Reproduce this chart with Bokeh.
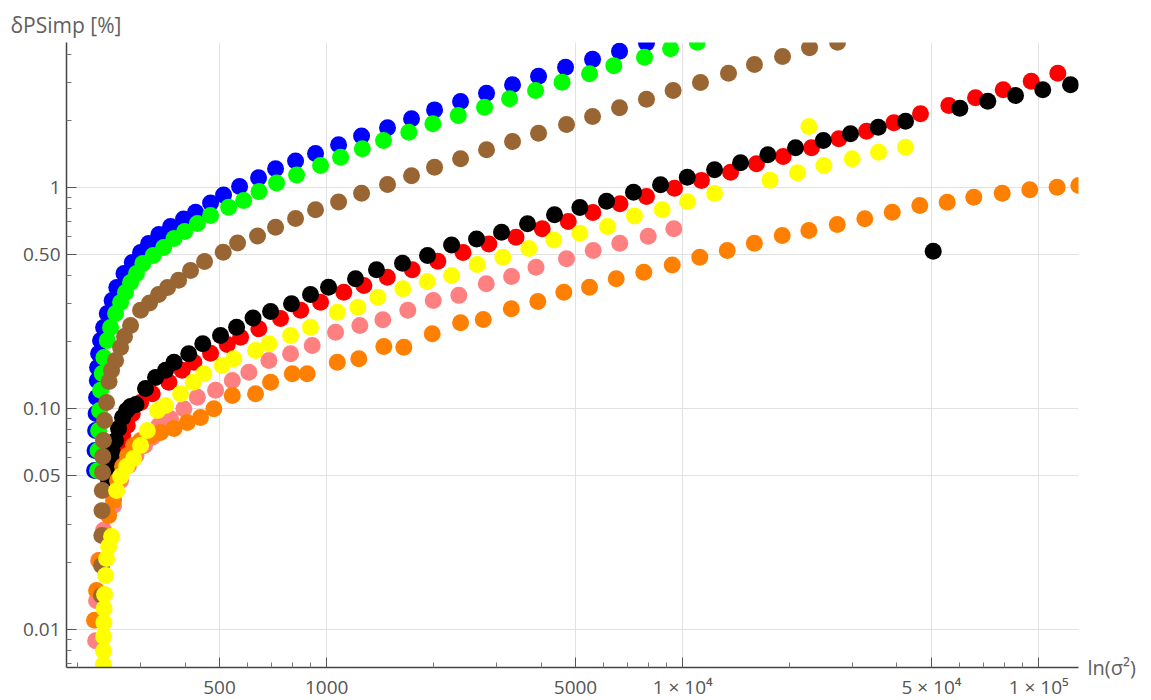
from bokeh.plotting import figure
from bokeh.models import FixedTicker, Range1d, CustomJSTickFormatter, LinearAxis
from bokeh.embed import file_html
from bokeh.resources import INLINE

# ---------------- data ----------------
blue_x = [222.8, 223.5, 224.3, 225.0, 225.7, 226.8, 227.2, 228.7, 231.6, 236.2, 241.9, 249.6, 257.2, 269.5,
          284.3, 300, 316.1, 337.7, 364.3, 396.2, 428.2, 471.8, 513.1, 569.2, 643.6, 718.4, 817.5, 930.3,
          1080, 1253, 1482, 1731, 2009, 2377, 2812, 3327, 3937, 4688, 5583, 6646, 7913]
blue_y = [0.0524, 0.0645, 0.0795, 0.0949, 0.1121, 0.134, 0.1533, 0.1773, 0.203, 0.2325, 0.269, 0.308, 0.353,
          0.408, 0.458, 0.508, 0.558, 0.613, 0.666, 0.720, 0.773, 0.851, 0.925, 1.010, 1.106, 1.215, 1.318,
          1.425, 1.560, 1.71, 1.865, 2.045, 2.245, 2.45, 2.67, 2.92, 3.19, 3.50, 3.80, 4.14, 4.51]

green_x = [227.2, 227.9, 228.7, 230.1, 231.6, 234.1, 236.6, 241.9, 247.1, 255.2, 263.6, 272.1, 281.2, 292.2,
           304.4, 325.5, 348.3, 372.5, 398.9, 433.2, 471.8, 530.4, 584.5, 645.5, 722.8, 822.8, 960.9, 1094,
           1259, 1444, 1701, 1987, 2342, 2776, 3263, 3861, 4583, 5474, 6406, 7812, 9246, 10990]
green_y = [0.0524, 0.0645, 0.0795, 0.098, 0.121, 0.144, 0.170, 0.203, 0.2325, 0.269, 0.302, 0.335, 0.372,
           0.408, 0.453, 0.492, 0.535, 0.588, 0.632, 0.687, 0.747, 0.815, 0.873, 0.959, 1.048, 1.139, 1.257,
           1.371, 1.497, 1.63, 1.779, 1.942, 2.12, 2.308, 2.52, 2.75, 2.995, 3.27, 3.56, 3.887, 4.243, 4.54]

red_x = [250.3, 255.2, 260.2, 267.0, 275.3, 284.3, 300, 323.6, 360.3, 392.8, 423.5, 471.8, 525.6, 572.8,
         644.8, 741.9, 845, 961, 1117, 1272, 1480, 1739, 2052, 2415, 2854, 3403, 4032, 4771, 5593, 6668,
         7913, 9486, 11290, 13630, 16120, 19160, 23010, 27460, 32850, 39200, 46570, 55930, 66460, 79510,
         95300, 113200]
red_y = [0.0524, 0.0613, 0.068, 0.0755, 0.0838, 0.0946, 0.1065, 0.1165, 0.1315, 0.149, 0.162, 0.178, 0.195,
         0.2102, 0.2294, 0.2554, 0.278, 0.3027, 0.3359, 0.360, 0.3927, 0.4242, 0.4640, 0.508, 0.5551, 0.5958,
         0.6503, 0.7017, 0.771, 0.8437, 0.9105, 0.9927, 1.077, 1.173, 1.280, 1.381, 1.512, 1.661, 1.798,
         1.963, 2.155, 2.35, 2.546, 2.768, 3.027, 3.289]

black_x = [244.0, 247.1, 250.3, 255.2, 260.2, 267.0, 274.1, 281.2, 291.2, 309.8, 330.5, 352.7, 372.5, 409.6,
           448.6, 503.2, 558.3, 621.0, 695.7, 796.5, 900.6, 1012, 1205, 1380, 1633, 1920, 2243, 2636, 3098,
           3666, 4365, 5142, 6111, 7276, 8666, 10300, 12290, 14540, 17350, 20750, 24830, 29610, 35430,
           42270, 50560, 60060, 71960, 86100, 102700, 122900]
black_y = [0.0472, 0.0552, 0.0632, 0.0716, 0.0812, 0.0911, 0.098, 0.1021, 0.1042, 0.1232, 0.1381, 0.149,
           0.162, 0.1768, 0.1963, 0.2140, 0.2333, 0.2567, 0.2748, 0.2977, 0.328, 0.354, 0.386, 0.424, 0.4544,
           0.492, 0.5494, 0.5848, 0.6276, 0.6851, 0.7524, 0.8117, 0.8669, 0.9522, 1.0285, 1.113, 1.202, 1.294,
           1.406, 1.512, 1.63, 1.750, 1.874, 1.995, 0.5149, 2.285, 2.458, 2.608, 2.768, 2.915]

pink_x = [224.3, 225.7, 228.7, 236.2, 251.9, 263.6, 277.6, 291.2, 307.8, 323.6, 337.7, 364.3, 396.9, 433.2,
          487.3, 542.9, 604.4, 688.1, 791.4, 910.6, 1059, 1239, 1438, 1690, 1992, 2351, 2807, 3306, 3872,
          4718, 5607, 6658, 8001, 9443]
pink_y = [0.0089, 0.0135, 0.0205, 0.0281, 0.0364, 0.0472, 0.0552, 0.0613, 0.068, 0.0742, 0.0838, 0.0898,
          0.0997, 0.1125, 0.121, 0.134, 0.146, 0.165, 0.177, 0.193, 0.2214, 0.2375, 0.252, 0.278, 0.308,
          0.325, 0.3667, 0.3959, 0.436, 0.4759, 0.519, 0.5598, 0.602, 0.650]

orange_x = [222.8, 225.7, 230.1, 236.2, 244.0, 251.9, 258.5, 267.0, 275.8, 286.7, 300, 320, 341.5, 372.5,
            405.8, 442, 481.9, 542.9, 631.1, 695.7, 800.2, 881.6, 1071, 1231, 1447, 1647, 1979, 2377, 2753,
            3300, 3918, 4636, 5474, 6505, 7777, 9346, 11170, 13340, 15900, 19040, 22620, 27180, 32480,
            38790, 46360, 55350, 65730, 79000, 94430, 112700, 129700]
orange_y = [0.0110, 0.0150, 0.0205, 0.0266, 0.0328, 0.0384, 0.0472, 0.0546, 0.0613, 0.068, 0.0716, 0.0755,
            0.0779, 0.0812, 0.0864, 0.0911, 0.0998, 0.1145, 0.1165, 0.1316, 0.1436, 0.1436, 0.162, 0.168,
            0.1908, 0.1894, 0.2178, 0.2443, 0.2527, 0.2826, 0.3049, 0.336, 0.354, 0.386, 0.4138, 0.446,
            0.484, 0.519, 0.560, 0.6064, 0.639, 0.6802, 0.7217, 0.7729, 0.829, 0.8583, 0.9039, 0.942,
            0.9763, 1.003, 1.021]

brown_x = [233.0, 233.2, 233.5, 233.8, 234.2, 234.6, 235.0, 236.0, 237.7, 240.8, 244.7, 248.7, 255.2, 263.6,
           270.4, 281.2, 300, 318, 337.1, 357.3, 383.6, 414.5, 453.8, 512, 561.9, 639.3, 718.4, 817.5, 930.3,
           1080, 1253, 1482, 1731, 2009, 2377, 2812, 3327, 3937, 4718, 5583, 6646, 7913, 9400, 11220, 13450,
           15910, 19080, 22720, 27230]
brown_y = [0.01425, 0.0195, 0.0266, 0.0345, 0.0426, 0.0513, 0.0607, 0.0716, 0.0883, 0.1065, 0.1325, 0.149,
           0.165, 0.1888, 0.2117, 0.2375, 0.278, 0.300, 0.328, 0.353, 0.380, 0.421, 0.4626, 0.5097, 0.561,
           0.603, 0.661, 0.724, 0.793, 0.860, 0.942, 1.032, 1.130, 1.236, 1.349, 1.481, 1.615, 1.761, 1.928,
           2.096, 2.294, 2.510, 2.75, 2.986, 3.289, 3.602, 3.915, 4.287, 4.54]

yellow_x = [236.0, 236.1, 236.2, 236.6, 237.0, 237.7, 239.3, 240.8, 244.0, 248.7, 256.9, 263.6, 274.1, 286.7,
            300, 313.3, 334.9, 352.7, 388.5, 421.5, 451.8, 508.8, 548.5, 631.1, 688.1, 791.4, 900.6, 1071,
            1223, 1392, 1636, 1916, 2243, 2648, 3125, 3697, 4345, 5142, 6151, 7323, 8760, 10320, 12290,
            17590, 21020, 22620, 24920, 29940, 35500, 42270]
yellow_y = [0.00694, 0.0080, 0.0093, 0.01076, 0.01245, 0.0144, 0.01755, 0.02096, 0.02375, 0.02635, 0.0426,
            0.04924, 0.05463, 0.05937, 0.068, 0.0795, 0.098, 0.1032, 0.1165, 0.1316, 0.1436, 0.1565, 0.1679,
            0.183, 0.1963, 0.214, 0.233, 0.2727, 0.2873, 0.3189, 0.3479, 0.3756, 0.400, 0.4482, 0.4838,
            0.5297, 0.5786, 0.6211, 0.6661, 0.7431, 0.793, 0.8623, 0.9394, 1.079, 1.167, 1.888, 1.257, 1.348,
            1.444, 1.522]

x_ticks = [500, 1000, 5000, 10000, 50000, 100000]
x_tick_labels = ["500", "1000", "5000", "1 × 10⁴", "5 × 10⁴", "1 × 10⁵"]
x_minor = [200, 300, 400, 600, 700, 800, 900, 2000, 3000, 4000, 6000, 7000, 8000, 9000,
           20000, 30000, 40000, 60000, 70000, 80000, 90000]
y_ticks = [0.01, 0.05, 0.1, 0.5, 1]
y_tick_labels = ["0.01", "0.05", "0.10", "0.50", "1"]
y_minor = [0.007, 0.008, 0.009, 0.02, 0.03, 0.04, 0.06, 0.07, 0.08, 0.09,
           0.2, 0.3, 0.4, 0.6, 0.7, 0.8, 0.9, 2, 3, 4]
x_label = "ln(σ²)"
y_label = "δPSimp [%]"

series = [
    (blue_x, blue_y, "#0000FF"),
    (green_x, green_y, "#00FF00"),
    (red_x, red_y, "#FF0000"),
    (black_x, black_y, "#000000"),
    (pink_x, pink_y, "#FF8080"),
    (orange_x, orange_y, "#FF8000"),
    (brown_x, brown_y, "#996633"),
    (yellow_x, yellow_y, "#FFFF00"),
]

FONT = "Open Sans"
TXT = "#555555"

p = figure(x_axis_type="log", y_axis_type="log",
           x_range=Range1d(185.8, 129400), y_range=Range1d(0.00673, 4.53),
           frame_width=1012, frame_height=625,
           min_border_left=66, min_border_top=42, min_border_right=66, min_border_bottom=30,
           output_backend="svg", toolbar_location=None)
p.outline_line_color = None
p.background_fill_color = "white"
p.border_fill_color = "white"

p.title.text = y_label
p.title.align = "left"
p.title.offset = -56
p.title.standoff = 8
p.title.text_font = FONT
p.title.text_font_size = "21px"
p.title.text_font_style = "normal"
p.title.text_color = "#606060"

for xs, ys, c in series:
    p.scatter(xs, ys, size=17, fill_color=c, line_color=None)

xmap = {str(v): s for v, s in zip(x_ticks, x_tick_labels)}
ymap = {str(v): s for v, s in zip(y_ticks, y_tick_labels)}

p.xaxis.ticker = FixedTicker(ticks=x_ticks, minor_ticks=x_minor)
p.yaxis.ticker = FixedTicker(ticks=y_ticks, minor_ticks=y_minor)
p.xaxis.formatter = CustomJSTickFormatter(args=dict(m=xmap), code="""
const keys = Object.keys(m);
for (const k of keys) { if (Math.abs(parseFloat(k) - tick) < 1e-6 * Math.abs(tick)) return m[k]; }
return "";
""")
p.yaxis.formatter = CustomJSTickFormatter(args=dict(m=ymap), code="""
const keys = Object.keys(m);
for (const k of keys) { if (Math.abs(parseFloat(k) - tick) < 1e-6 * Math.abs(tick)) return m[k]; }
return "";
""")

for ax in (p.xaxis, p.yaxis):
    ax.axis_line_color = "#444444"
    ax.axis_line_width = 1.5
    ax.major_tick_line_color = "#555555"
    ax.minor_tick_line_color = "#777777"
    ax.major_tick_in = 10
    ax.major_tick_out = 0
    ax.minor_tick_in = 5
    ax.minor_tick_out = 0
    ax.major_label_text_font = FONT
    ax.major_label_text_font_size = "19px"
    ax.major_label_text_color = TXT
p.xaxis.major_label_standoff = 6
p.yaxis.major_label_standoff = 6

p.xgrid.grid_line_color = "#e2e2e2"
p.ygrid.grid_line_color = "#e2e2e2"
p.xgrid.grid_line_width = 1
p.ygrid.grid_line_width = 1

# x-axis name at the right end of the axis, drawn as the only label of a bare right-hand axis
p.extra_y_ranges = {"lab": Range1d(1, 10)}
lab_axis = LinearAxis(y_range_name="lab", ticker=FixedTicker(ticks=[1]),
                      formatter=CustomJSTickFormatter(args=dict(t=x_label), code="return t;"))
lab_axis.axis_line_color = None
lab_axis.major_tick_line_color = None
lab_axis.minor_tick_line_color = None
lab_axis.major_tick_in = 0
lab_axis.major_tick_out = 0
lab_axis.major_label_standoff = 9
lab_axis.major_label_text_font = FONT
lab_axis.major_label_text_font_size = "20px"
lab_axis.major_label_text_color = "#606060"
p.add_layout(lab_axis, "right")

open("out.html", "w").write(file_html(p, INLINE))
